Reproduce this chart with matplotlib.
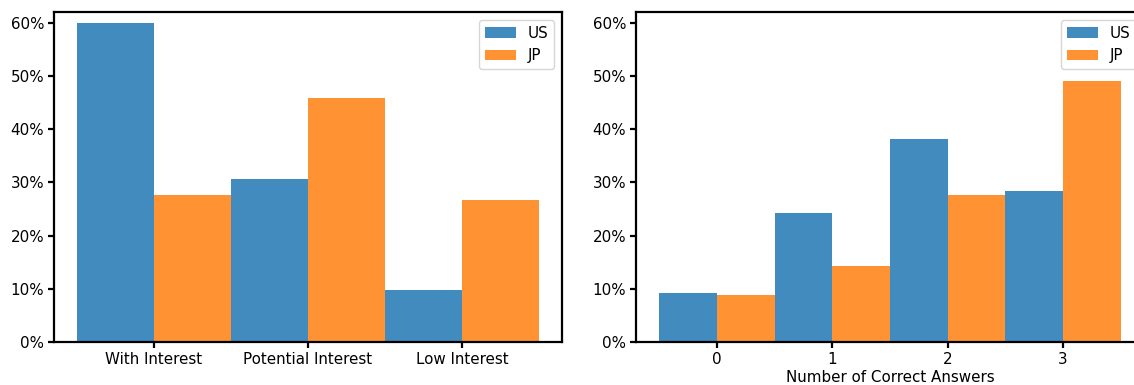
import matplotlib
matplotlib.use("Agg")
import matplotlib.pyplot as plt
from matplotlib.ticker import PercentFormatter
import numpy as np

# interest level shares
interest_labels = ["With Interest", "Potential Interest", "Low Interest"]
interest_us = [0.599, 0.306, 0.097]
interest_jp = [0.276, 0.459, 0.266]

# quiz results
answer_labels = ["0", "1", "2", "3"]
answers_us = [0.093, 0.243, 0.381, 0.283]
answers_jp = [0.089, 0.143, 0.277, 0.491]

plt.rcParams["font.size"] = 10.9

W, H = 1134, 385
fig = plt.figure(figsize=(W / 100, H / 100), dpi=100)

ax1 = fig.add_axes([54 / W, 43 / H, 508 / W, 330 / H])
ax2 = fig.add_axes([636 / W, 43 / H, 508 / W, 330 / H])


def draw(ax, labels, us, jp):
    x = np.arange(len(labels))
    w = 0.5
    ax.bar(x - w / 2, us, w, color="tab:blue", alpha=0.85, label="US")
    ax.bar(x + w / 2, jp, w, color="tab:orange", alpha=0.85, label="JP")
    ax.set_xticks(x)
    ax.set_xticklabels(labels)
    ax.set_ylim(0, 0.62)
    ax.set_yticks(np.arange(0, 0.61, 0.1))
    ax.yaxis.set_major_formatter(PercentFormatter(1.0, decimals=0))
    ax.legend(loc="upper right")
    for s in ax.spines.values():
        s.set_linewidth(1.6)
    ax.tick_params(width=1.6, length=4, pad=3)


draw(ax1, interest_labels, interest_us, interest_jp)
draw(ax2, answer_labels, answers_us, answers_jp)
ax2.set_xlabel("Number of Correct Answers", labelpad=2)

fig.savefig("out.png", dpi=100)
